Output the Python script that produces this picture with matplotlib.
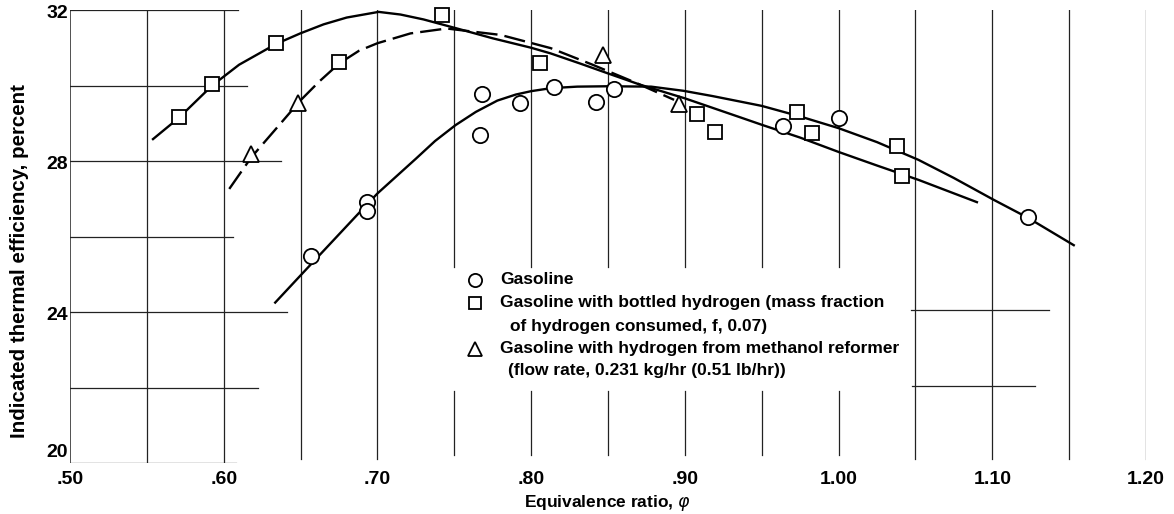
import matplotlib
matplotlib.use("Agg")
import matplotlib.pyplot as plt
from matplotlib.lines import Line2D

plt.rcParams['font.family'] = ['Liberation Sans', 'DejaVu Sans']

# ---- data ----
gas_x = [0.657, 0.693, 0.6935, 0.7665, 0.768, 0.793, 0.815, 0.842, 0.854, 0.964, 1.000, 1.123]
gas_y = [25.48, 26.91, 26.68, 28.69, 29.77, 29.54, 29.96, 29.56, 29.91, 28.93, 29.14, 26.52]

h2_x = [0.571, 0.5925, 0.634, 0.675, 0.742, 0.8055, 0.908, 0.9195, 0.973, 0.983, 1.038, 1.041]
h2_y = [29.17, 30.04, 31.13, 30.62, 31.87, 30.60, 29.24, 28.77, 29.30, 28.74, 28.40, 27.60]

meth_x = [0.618, 0.6485, 0.8466, 0.896]
meth_y = [28.19, 29.54, 30.81, 29.50]

# faired curves
gas_cx = [0.6335, 0.650, 0.670, 0.690, 0.700, 0.7125, 0.725, 0.7375, 0.7508, 0.764, 0.778,
          0.790, 0.800, 0.813, 0.830, 0.850, 0.878, 0.899, 0.918, 0.9365, 0.950, 0.975,
          1.000, 1.025, 1.052, 1.075, 1.101, 1.123, 1.153]
gas_cy = [24.25, 24.97, 25.84, 26.71, 27.14, 27.60, 28.06, 28.53, 28.95, 29.30, 29.60,
          29.76, 29.85, 29.93, 29.97, 29.98, 29.97, 29.86, 29.72, 29.57, 29.46, 29.18,
          28.87, 28.50, 28.03, 27.55, 26.97, 26.50, 25.77]

h2_cx = [0.554, 0.571, 0.5925, 0.610, 0.634, 0.6498, 0.665, 0.680, 0.7008, 0.715, 0.730,
         0.7518, 0.775, 0.800, 0.8127, 0.832, 0.850, 0.871, 0.900, 0.9365, 0.950, 0.975,
         1.000, 1.025, 1.052, 1.090]
h2_cy = [28.58, 29.15, 30.00, 30.55, 31.10, 31.38, 31.62, 31.80, 31.95, 31.88, 31.75,
         31.51, 31.25, 31.00, 30.85, 30.58, 30.32, 30.02, 29.66, 29.15, 28.96, 28.62,
         28.24, 27.88, 27.50, 26.91]

meth_cx = [0.6036, 0.618, 0.635, 0.6498, 0.662, 0.675, 0.688, 0.700, 0.7215, 0.745,
           0.7801, 0.8127, 0.840, 0.8665, 0.893]
meth_cy = [27.26, 28.10, 28.90, 29.60, 30.10, 30.58, 30.92, 31.12, 31.38, 31.51,
           31.34, 30.99, 30.55, 30.10, 29.62]

xticks = [0.50, 0.60, 0.70, 0.80, 0.90, 1.00, 1.10, 1.20]
xticklabels = ['.50', '.60', '.70', '.80', '.90', '1.00', '1.10', '1.20']
yticks = [20, 24, 28, 32]
yticklabels = ['20', '24', '28', '32']

legend_labels = ['Gasoline',
                 'Gasoline with bottled hydrogen (mass fraction',
                 'of hydrogen consumed, f, 0.07)',
                 'Gasoline with hydrogen from methanol reformer',
                 '(flow rate, 0.231 kg/hr (0.51 lb/hr))']

# ---- figure ----
W, H = 1174, 514
fig = plt.figure(figsize=(W / 100, H / 100), dpi=100)
ax = fig.add_axes([70 / W, 1 - 463 / H, (1146 - 70) / W, (463 - 10) / H])
ax.set_xlim(0.50, 1.20)
ax.set_ylim(20, 32)
ax.axis('off')

gc = '#222222'
glw = 0.9
# vertical grid lines
for xv in [0.50, 0.55, 0.60, 0.65, 0.70, 1.05, 1.10, 1.15, 1.20]:
    ax.plot([xv, xv], [20.1 if xv > 0.62 else 20, 32], color=gc,
            lw=glw if xv > 0.5 else 1.1, zorder=1)
for xv in [0.75, 0.80, 0.85, 0.90, 0.95, 1.00]:
    ax.plot([xv, xv], [25.2, 32], color=gc, lw=glw, zorder=1)
    ax.plot([xv, xv], [20.2, 21.9], color=gc, lw=glw, zorder=1)
# horizontal grid segments
hl = {32: 0.609, 30: 0.615, 28: 0.637, 26: 0.606, 24: 0.641, 22: 0.622, 20: 0.608}
for yv, xe in hl.items():
    ax.plot([0.50, xe], [yv, yv], color=gc, lw=glw, zorder=1)
ax.plot([1.047, 1.137], [24.05, 24.05], color=gc, lw=glw, zorder=1)
ax.plot([1.048, 1.128], [22.05, 22.05], color=gc, lw=glw, zorder=1)

# curves
lw = 1.7
ax.plot(gas_cx, gas_cy, color='black', lw=lw, zorder=2, solid_joinstyle='round')
ax.plot(h2_cx, h2_cy, color='black', lw=lw, zorder=2, solid_joinstyle='round')
ax.plot(meth_cx, meth_cy, color='black', lw=lw, zorder=2, dashes=(9, 3))

# data points
mk = dict(linestyle='none', markerfacecolor='white', markeredgecolor='black',
          markeredgewidth=1.3, zorder=3, clip_on=False)
ax.plot(gas_x, gas_y, marker='o', markersize=11, **mk)
ax.plot(h2_x, h2_y, marker='s', markersize=10, **mk)
ax.plot(meth_x, meth_y, marker='^', markersize=11, **mk)

# tick labels
for xv, lab in zip(xticks, xticklabels):
    ax.text(xv, 20 - 21.5 / 37.75, lab, ha='center', va='baseline', fontsize=14,
            fontweight='bold')
for yv, lab in zip(yticks, yticklabels):
    ax.text(0.4985, yv + (0.28 if yv == 20 else -0.1), lab, ha='right', va='center',
            fontsize=14, fontweight='bold')

fig.text(607 / W, 1 - 507 / H, r'Equivalence ratio, $\varphi$', ha='center', va='baseline',
         fontsize=12.5, fontweight='bold')
fig.text(20 / W, 1 - 261 / H, 'Indicated thermal efficiency, percent', ha='center',
         va='center', rotation=90, fontsize=14.8, fontweight='bold')

# legend (manual)
leg_y = [280, 303, 326, 349, 371]
leg_x = [500, 500, 510, 500, 508]
for lab, xp, yp in zip(legend_labels, leg_x, leg_y):
    fig.text(xp / W, 1 - yp / H, lab, ha='left', va='center', fontsize=12.5,
             fontweight='bold')
for m, yp, ms in [('o', 280, 9.5), ('s', 303, 9), ('^', 349, 9.5)]:
    fig.add_artist(Line2D([475 / W], [1 - yp / H], marker=m, markersize=ms,
                          markerfacecolor='white', markeredgecolor='black',
                          markeredgewidth=1.3, linestyle='none', transform=fig.transFigure))

fig.savefig('out.png', dpi=100)
